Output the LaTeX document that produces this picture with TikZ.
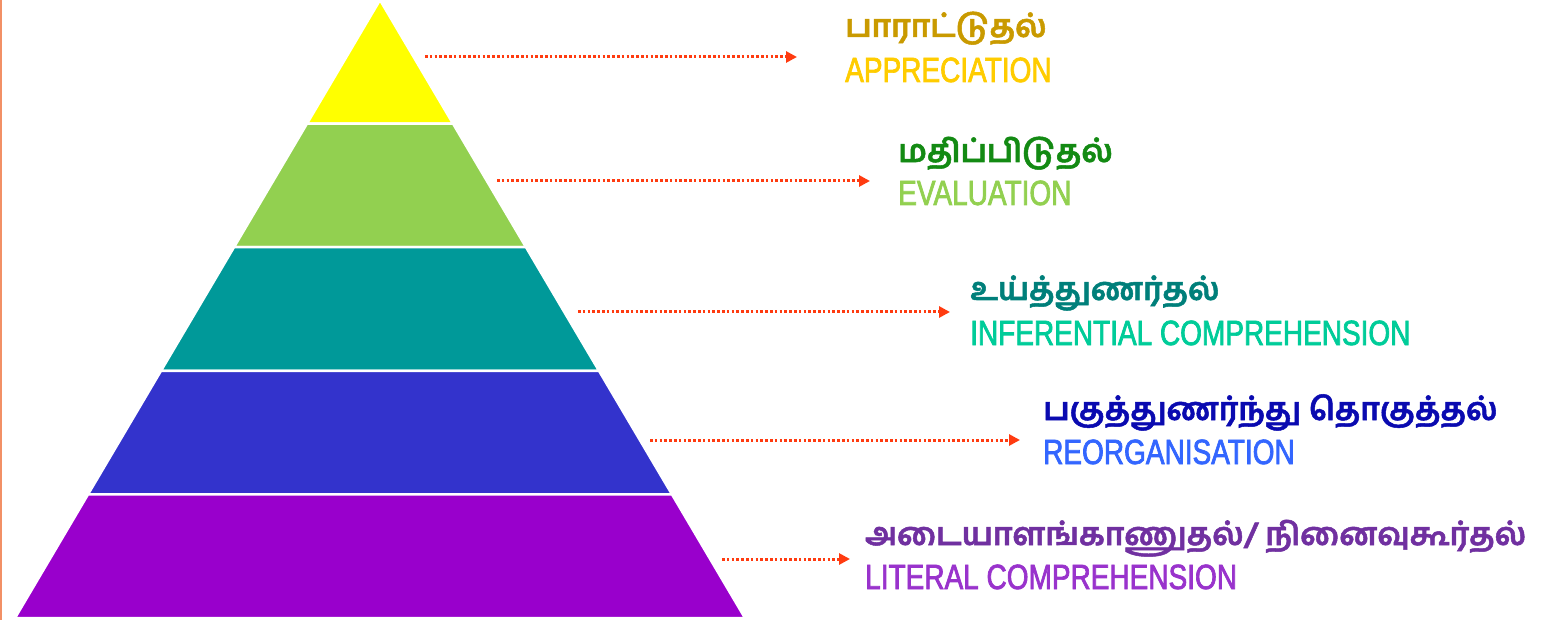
\documentclass[tikz,border=0pt]{standalone}
\usepackage{fontspec}
\setsansfont{Liberation Sans}[FakeStretch=0.8,FakeBold=2]
\newfontfamily\tamilfont[Script=Tamil,FakeBold=1.6]{Hind Madurai}
\usepackage{tikz}
\usetikzlibrary{arrows.meta}

\definecolor{edge}{HTML}{F29066}
\definecolor{pointer}{HTML}{FF3B10}
\definecolor{lvA}{HTML}{FFFF00}
\definecolor{lvB}{HTML}{92D050}
\definecolor{lvC}{HTML}{009999}
\definecolor{lvD}{HTML}{3333CC}
\definecolor{lvE}{HTML}{9900CC}
\definecolor{tamA}{HTML}{C99A00}
\definecolor{tamB}{HTML}{138A13}
\definecolor{tamC}{HTML}{007F7A}
\definecolor{tamD}{HTML}{0A0AB0}
\definecolor{tamE}{HTML}{7030A0}
\definecolor{engA}{HTML}{FFCC00}
\definecolor{engB}{HTML}{92D050}
\definecolor{engC}{HTML}{00CC99}
\definecolor{engD}{HTML}{3366FF}
\definecolor{engE}{HTML}{9933CC}

\begin{document}
\begin{tikzpicture}[x=1pt,y=-1pt,
    layer/.style={draw=white,line width=2.5pt,line join=round},
    arc/.style={draw,pointer,line width=3pt,dash pattern=on 2.6pt off 2.2pt,-{Triangle[length=11pt,width=11pt]}},
    tam/.style={anchor=base west,inner sep=0pt,font=\tamilfont\bfseries\fontsize{31.5}{36}\selectfont},
    eng/.style={anchor=base west,inner sep=0pt,font=\sffamily\fontsize{35}{40}\selectfont}]
    \useasboundingbox (0,0) rectangle (1545,620);
    \draw[edge,line width=2.5pt] (1,0) -- (1,620);

    % pyramid, top to bottom
    \foreach [count=\i] \col/\a/\b/\c/\d/\yt/\yb in {lvA/380/380/307/453/0/123.6,lvB/307/453/234/526/123.6/247.2,lvC/234/526/161/599/247.2/370.8,lvD/161/599/88/672/370.8/494.4,lvE/88/672/15/745/494.4/618}{
        \fill[layer,fill=\col] (\a,\yt) -- (\b,\yt) -- (\d,\yb) -- (\c,\yb) -- cycle;
    }

    \node[tam,text=tamA] (ta1) at (845,37) {பாராட்டுதல்};
    \node[eng,text=engA] (en1) at (845,82) {APPRECIATION};
    \node[tam,text=tamB] (ta2) at (898,162) {மதிப்பிடுதல்};
    \node[eng,text=engB] (en2) at (898,205) {EVALUATION};
    \node[tam,text=tamC] (ta3) at (970,300) {உய்த்துணர்தல்};
    \node[eng,text=engC] (en3) at (970,345) {INFERENTIAL COMPREHENSION};
    \node[tam,text=tamD] (ta4) at (1043,420) {பகுத்துணர்ந்து தொகுத்தல்};
    \node[eng,text=engD] (en4) at (1043,464) {REORGANISATION};
    \node[tam,text=tamE] (ta5) at (865,545) {அடையாளங்காணுதல்/ நினைவுகூர்தல்};
    \node[eng,text=engE] (en5) at (865,589) {LITERAL COMPREHENSION};

    \foreach [count=\i] \xs/\xe/\y in {425/797/57,497/870/181,578/950/312,650/1020/440,722/850/559}{
        \coordinate (s\i) at (\xs,\y);
        \coordinate (e\i) at (\xe,\y);
        \draw[arc] (s\i) -- (e\i);
    }
\end{tikzpicture}
\end{document}
